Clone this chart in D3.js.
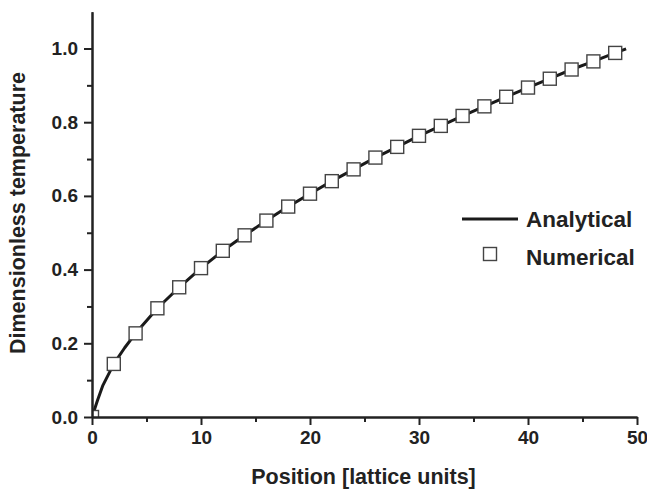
<!DOCTYPE html>
<html>
<head>
<meta charset="utf-8">
<script src="https://cdn.jsdelivr.net/npm/d3@7"></script>
<style>
  body { margin: 0; background: #fff; }
  text { font-family: "Liberation Sans", Arial, sans-serif; font-weight: bold; fill: #222; }
</style>
</head>
<body>
<svg id="chart" width="647" height="492"></svg>
<script>
// numerical solution (squares)
var numX = [0, 2, 4, 6, 8, 10, 12, 14, 16, 18, 20, 22, 24, 26, 28, 30, 32, 34, 36, 38, 40, 42, 44, 46, 48];
var numY = [0, 0.144, 0.227, 0.295, 0.352, 0.404, 0.451, 0.493, 0.533, 0.571, 0.606, 0.640, 0.672,
            0.704, 0.733, 0.763, 0.790, 0.817, 0.843, 0.869, 0.894, 0.918, 0.943, 0.965, 0.988];

// analytical solution (line)
var anaX = [0, 0.5, 1, 2, 3, 4, 6, 8, 10, 12, 14, 16, 18, 20, 22, 24, 26, 28, 30, 32, 34, 36, 38, 40, 42, 44, 46, 48, 49];
var anaY = [0, 0.045, 0.086, 0.144, 0.188, 0.227, 0.295, 0.352, 0.404, 0.451, 0.493, 0.533, 0.571, 0.606, 0.640, 0.672,
            0.704, 0.733, 0.763, 0.790, 0.817, 0.843, 0.869, 0.894, 0.918, 0.943, 0.965, 0.988, 0.999];

var xTicks = [0, 10, 20, 30, 40, 50];
var xMinor = [5, 15, 25, 35, 45];
var yTicks = [0, 0.2, 0.4, 0.6, 0.8, 1.0];
var yMinor = [0.1, 0.3, 0.5, 0.7, 0.9];

var plotLeft = 92, plotRight = 637, plotTop = 11.65, plotBottom = 417;
var ink = '#222';

var svg = d3.select('#chart');

var xScale = d3.scaleLinear().domain([0, 50]).range([plotLeft, plotRight]);
var yScale = d3.scaleLinear().domain([0, 1.1]).range([plotBottom, plotTop]);

svg.append('clipPath').attr('id', 'plot')
  .append('rect')
  .attr('x', plotLeft).attr('y', plotTop)
  .attr('width', plotRight - plotLeft).attr('height', plotBottom - plotTop);

var plot = svg.append('g').attr('clip-path', 'url(#plot)');

var lineGen = d3.line()
  .x(function(d) { return xScale(d[0]); })
  .y(function(d) { return yScale(d[1]); });

plot.append('path')
  .datum(d3.zip(anaX, anaY))
  .attr('fill', 'none')
  .attr('stroke', '#1a1a1a')
  .attr('stroke-width', 3)
  .attr('stroke-linejoin', 'round')
  .attr('d', lineGen);

var sq = 13;
plot.selectAll('rect.pt')
  .data(d3.zip(numX, numY))
  .enter().append('rect')
  .attr('class', 'pt')
  .attr('x', function(d) { return xScale(d[0]) - sq / 2; })
  .attr('y', function(d) { return yScale(d[1]) - sq / 2; })
  .attr('width', sq).attr('height', sq)
  .attr('fill', '#fff')
  .attr('stroke', '#444')
  .attr('stroke-width', 1.4);

// axes
function styleAxis(g) {
  g.select('.domain').attr('stroke', ink).attr('stroke-width', 2);
  g.selectAll('.tick line').attr('stroke', ink).attr('stroke-width', 2);
  g.selectAll('.tick text').style('font-size', '19px').attr('fill', ink);
}

svg.append('g')
  .attr('transform', 'translate(0,' + plotBottom + ')')
  .call(d3.axisBottom(xScale).tickValues(xMinor).tickSize(5).tickFormat('').tickSizeOuter(0))
  .call(styleAxis);

svg.append('g')
  .attr('transform', 'translate(0,' + plotBottom + ')')
  .call(d3.axisBottom(xScale).tickValues(xTicks).tickSize(8).tickPadding(6).tickSizeOuter(0).tickFormat(d3.format('d')))
  .call(styleAxis);

svg.append('g')
  .attr('transform', 'translate(' + plotLeft + ',0)')
  .call(d3.axisLeft(yScale).tickValues(yMinor).tickSize(5).tickFormat('').tickSizeOuter(0))
  .call(styleAxis);

svg.append('g')
  .attr('transform', 'translate(' + plotLeft + ',0)')
  .call(d3.axisLeft(yScale).tickValues(yTicks).tickSize(8).tickPadding(6).tickSizeOuter(0).tickFormat(d3.format('.1f')))
  .call(styleAxis);

// axis titles
svg.append('text')
  .attr('x', (plotLeft + plotRight) / 2 - 1)
  .attr('y', 484)
  .attr('text-anchor', 'middle')
  .style('font-size', '21.5px')
  .text('Position [lattice units]');

svg.append('text')
  .attr('transform', 'translate(25,213) rotate(-90)')
  .attr('text-anchor', 'middle')
  .style('font-size', '21.5px')
  .text('Dimensionless temperature');

// legend
var legend = svg.append('g');
legend.append('line')
  .attr('x1', 462).attr('x2', 518)
  .attr('y1', 219).attr('y2', 219)
  .attr('stroke', '#1a1a1a').attr('stroke-width', 3);
legend.append('text')
  .attr('x', 526).attr('y', 227)
  .style('font-size', '22.5px')
  .text('Analytical');
legend.append('rect')
  .attr('x', 490 - sq / 2).attr('y', 254 - sq / 2)
  .attr('width', sq).attr('height', sq)
  .attr('fill', '#fff').attr('stroke', '#444').attr('stroke-width', 1.4);
legend.append('text')
  .attr('x', 526).attr('y', 265)
  .style('font-size', '22.5px')
  .text('Numerical');
</script>
</body>
</html>
